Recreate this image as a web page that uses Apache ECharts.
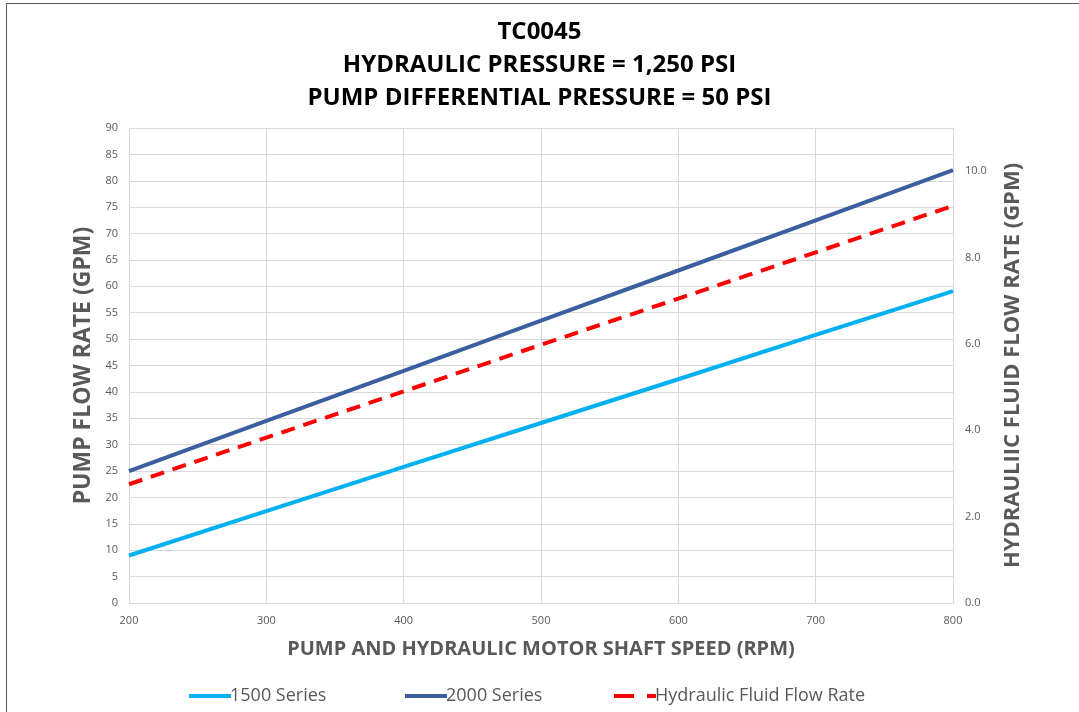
<!DOCTYPE html>
<html>
<head>
<meta charset="utf-8">
<script src="https://cdn.jsdelivr.net/npm/echarts@6/dist/echarts.min.js"></script>
<style>
html,body{margin:0;padding:0;background:#fff;}
#frame{position:absolute;left:6px;top:3px;width:1090px;height:720px;border:1px solid #595959;box-sizing:border-box;}
#chart{position:absolute;left:0;top:0;width:1079px;height:712px;}
</style>
</head>
<body>
<div id="frame"></div>
<div id="chart"></div>
<script>
const titleLines = ['TC0045', 'HYDRAULIC PRESSURE = 1,250 PSI', 'PUMP DIFFERENTIAL PRESSURE = 50 PSI'];
const speedRpm = [200, 300, 400, 500, 600, 700, 800];
const series1500 = [9.0, 17.4, 25.8, 34.1, 42.4, 50.8, 59.1];
const series2000 = [25.0, 34.5, 44.0, 53.5, 63.0, 72.5, 82.0];
const hydraulicFlow = [2.75, 3.83, 4.90, 5.98, 7.05, 8.12, 9.20];
const seriesNames = ['1500 Series', '2000 Series', 'Hydraulic Fluid Flow Rate'];
const xAxisTitle = 'PUMP AND HYDRAULIC MOTOR SHAFT SPEED (RPM)';
const leftAxisTitle = 'PUMP FLOW RATE (GPM)';
const rightAxisTitle = 'HYDRAULIIC FLUID FLOW RATE (GPM)';

const pair = (xs, ys) => xs.map((x, i) => [x, ys[i]]);
const grey = '#595959';
const font = '"Open Sans", "Noto Sans", sans-serif';

const legendBase = (name, left, dash) => ({
  data: [name], left: left, top: 687, padding: 0,
  itemWidth: 42, itemHeight: 12, itemGap: 0,
  itemStyle: {opacity: 0},
  lineStyle: dash ? {type: dash, width: 4} : {width: 4},
  textStyle: {fontFamily: font, fontSize: 18, color: grey, padding: [0, 0, 0, -6]}
});

const chart = echarts.init(document.getElementById('chart'), null, {renderer: 'canvas'});
chart.setOption({
  animation: false,
  backgroundColor: 'transparent',
  title: {
    text: titleLines.join('\n'),
    left: 'center',
    top: 11,
    textStyle: {fontFamily: font, fontWeight: 'bold', fontSize: 24, color: '#000', lineHeight: 33}
  },
  grid: {left: 129, right: 126, top: 128, bottom: 109, containLabel: false},
  legend: [
    legendBase(seriesNames[0], 187, null),
    legendBase(seriesNames[1], 403, null),
    legendBase(seriesNames[2], 612, [20, 13])
  ],
  xAxis: {
    type: 'value', min: 200, max: 800, interval: 100,
    name: xAxisTitle, nameLocation: 'middle', nameGap: 36,
    nameTextStyle: {fontFamily: font, fontWeight: 'bold', fontSize: 20, color: grey},
    axisLine: {show: true, lineStyle: {color: '#D9D9D9', width: 1}},
    axisTick: {show: false},
    axisLabel: {fontFamily: font, fontSize: 11, color: grey, margin: 12},
    splitLine: {show: true, lineStyle: {color: '#D9D9D9', width: 1}}
  },
  yAxis: [
    {
      type: 'value', min: 0, max: 90, interval: 5,
      name: leftAxisTitle, nameLocation: 'middle', nameGap: 32, nameRotate: 90,
      nameTextStyle: {fontFamily: font, fontWeight: 'bold', fontSize: 23, color: grey},
      axisLine: {show: true, lineStyle: {color: '#D9D9D9', width: 1}},
      axisTick: {show: false},
      axisLabel: {fontFamily: font, fontSize: 11, color: grey, margin: 11},
      splitLine: {show: true, lineStyle: {color: '#D9D9D9', width: 1}}
    },
    {
      type: 'value', min: 0, max: 11, interval: 2, position: 'right',
      name: rightAxisTitle, nameLocation: 'middle', nameGap: 49, nameRotate: 90,
      nameTextStyle: {fontFamily: font, fontWeight: 'bold', fontSize: 22, color: grey},
      axisLine: {show: true, lineStyle: {color: '#D9D9D9', width: 1}},
      axisTick: {show: false},
      axisLabel: {fontFamily: font, fontSize: 11, color: grey, margin: 12, showMaxLabel: false,
        formatter: v => v.toFixed(1)},
      splitLine: {show: false}
    }
  ],
  series: [
    {name: seriesNames[0], type: 'line', yAxisIndex: 0, data: pair(speedRpm, series1500),
      symbol: 'none', lineStyle: {color: '#00B0F0', width: 4}, itemStyle: {color: '#00B0F0'}},
    {name: seriesNames[1], type: 'line', yAxisIndex: 0, data: pair(speedRpm, series2000),
      symbol: 'none', lineStyle: {color: '#3B5E9E', width: 4}, itemStyle: {color: '#3B5E9E'}},
    {name: seriesNames[2], type: 'line', yAxisIndex: 1, data: pair(speedRpm, hydraulicFlow),
      symbol: 'none', lineStyle: {color: '#FF0000', width: 4, type: [14, 9]}, itemStyle: {color: '#FF0000'}}
  ]
});
</script>
</body>
</html>
